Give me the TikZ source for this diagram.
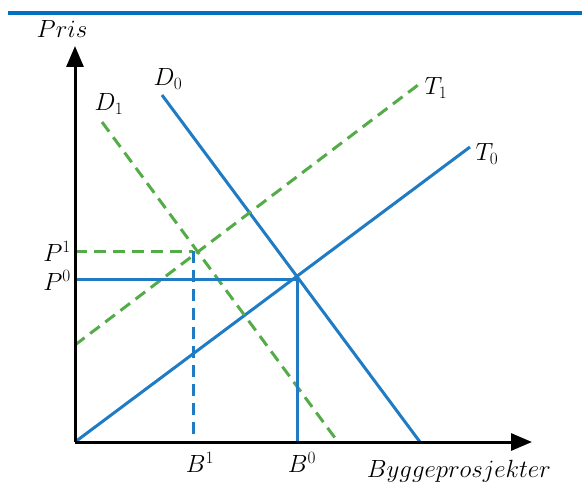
\documentclass[tikz,border=0pt]{standalone}
\usetikzlibrary{arrows.meta}
\definecolor{lblue}{RGB}{31,123,196}
\definecolor{topblue}{RGB}{0,112,192}
\definecolor{lgreen}{RGB}{84,172,72}
\begin{document}
\begin{tikzpicture}[x=1pt,y=-1pt,
  axis/.style={line width=3pt,-{Triangle[length=21pt,width=17pt]}},
  solidblue/.style={lblue,line width=3pt},
  dashgreen/.style={lgreen,line width=3pt,dash pattern=on 12pt off 7pt},
  dashblue/.style={lblue,line width=3pt,dash pattern=on 12pt off 7pt},
  lbl/.style={font=\fontsize{24}{28}\selectfont,inner sep=0pt}]
\useasboundingbox (0,0) rectangle (582,495);
\fill[topblue] (8,11) rectangle (582,15);
% coordinates
\coordinate (O) at (75,442);
\coordinate (Ytop) at (75,46);
\coordinate (Xend) at (532,442);
\coordinate (D0a) at (162,95);
\coordinate (D0b) at (420,442);
\coordinate (D1a) at (102,122);
\coordinate (D1b) at (338,442);
\coordinate (T0b) at (470,147);
\coordinate (T1a) at (75,345);
\coordinate (T1b) at (422,82);
\coordinate (E0) at (297,279);
\coordinate (E1) at (193,251);
\coordinate (P0) at (75,279);
\coordinate (P1) at (75,251);
\coordinate (B0) at (297,442);
\coordinate (B1) at (193,442);
% curves
\draw[solidblue] (D0a) -- (D0b);
\draw[solidblue] (O) -- (T0b);
\draw[dashgreen] (D1a) -- (D1b);
\draw[dashgreen] (T1a) -- (T1b);
\draw[solidblue] (P0) -- (E0);
\draw[solidblue] (E0) -- (B0);
\draw[dashgreen] (P1) -- (E1);
\draw[dashblue] (E1) -- (B1);
% axes
\draw[axis] (O) -- (Ytop);
\draw[axis] (O) -- (Xend);
% labels
\node[lbl] (lpris) at (62,29) {$Pris$};
\node[lbl] (lbygg) at (459,471) {$Byggeprosjekter$};
\node[lbl] (lD0) at (168,79) {$D_0$};
\node[lbl] (lD1) at (109,104) {$D_1$};
\node[lbl] (lT0) at (487,154) {$T_0$};
\node[lbl] (lT1) at (436,88) {$T_1$};
\node[lbl,anchor=east] (lP1) at (71,251) {$P^1$};
\node[lbl,anchor=east] (lP0) at (71,280) {$P^0$};
\node[lbl] (lB1) at (200,462) {$B^1$};
\node[lbl] (lB0) at (302,462) {$B^0$};
\end{tikzpicture}
\end{document}
